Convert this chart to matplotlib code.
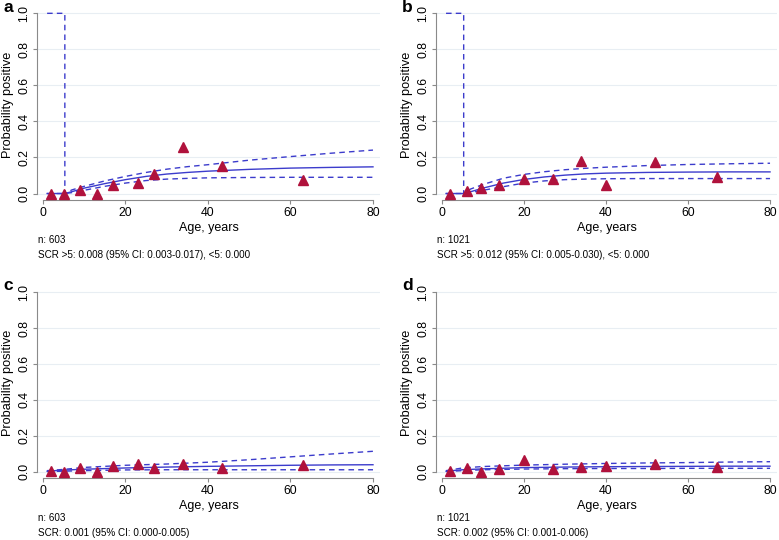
import matplotlib
matplotlib.use("Agg")
import matplotlib.pyplot as plt
import numpy as np

plt.rcParams['font.family'] = ['Liberation Sans', 'DejaVu Sans']

# observed proportions (triangles)
obs_age_ac = [2, 5, 9, 13, 17, 23, 27, 34, 43.5, 63]
obs_age_bd = [2, 6, 9.5, 14, 20, 27, 34, 40, 52, 67]
obs_a = [0.0, 0.0, 0.02, 0.0, 0.05, 0.06, 0.108, 0.26, 0.155, 0.073]
obs_b = [0.0, 0.012, 0.03, 0.047, 0.08, 0.08, 0.181, 0.05, 0.174, 0.092]
obs_c = [0.004, 0.0, 0.02, 0.0, 0.03, 0.04, 0.02, 0.04, 0.02, 0.035]
obs_d = [0.003, 0.02, 0.0, 0.013, 0.063, 0.012, 0.025, 0.03, 0.043, 0.023]

# fitted curves (a, b: break at age 5)
fit_x_ab = [1, 5.3, 7, 10, 15, 20, 25, 30, 35, 40, 50, 60, 70, 80]
fit_a = [0, 0, 0.01, 0.03, 0.055, 0.077, 0.095, 0.108, 0.117, 0.124, 0.134, 0.141, 0.145, 0.148]
up_a = [1.0, 1.0, 0.02, 0.04, 0.07, 0.095, 0.117, 0.135, 0.149, 0.16, 0.185, 0.205, 0.224, 0.241]
lo_a = [0, 0, 0.005, 0.018, 0.04, 0.058, 0.072, 0.08, 0.084, 0.087, 0.089, 0.09, 0.09, 0.09]
fit_b = [0, 0, 0.01, 0.03, 0.058, 0.078, 0.092, 0.102, 0.109, 0.113, 0.117, 0.119, 0.12, 0.12]
up_b = [1.0, 1.0, 0.025, 0.05, 0.085, 0.106, 0.121, 0.132, 0.14, 0.146, 0.155, 0.161, 0.165, 0.168]
lo_b = [0, 0, 0.005, 0.018, 0.038, 0.058, 0.07, 0.077, 0.08, 0.082, 0.083, 0.083, 0.083, 0.083]

fit_x_cd = [1, 5, 10, 20, 30, 40, 50, 60, 70, 80]
fit_c = [0.002, 0.008, 0.013, 0.02, 0.025, 0.029, 0.032, 0.035, 0.037, 0.038]
up_c = [0.005, 0.012, 0.023, 0.035, 0.042, 0.052, 0.066, 0.082, 0.098, 0.113]
lo_c = [0.0, 0.002, 0.005, 0.009, 0.01, 0.01, 0.01, 0.01, 0.01, 0.01]
fit_d = [0.002, 0.01, 0.015, 0.022, 0.025, 0.027, 0.028, 0.029, 0.03, 0.03]
up_d = [0.005, 0.02, 0.028, 0.036, 0.041, 0.045, 0.048, 0.05, 0.053, 0.055]
lo_d = [0.0, 0.005, 0.01, 0.014, 0.016, 0.017, 0.017, 0.018, 0.018, 0.018]

panel_labels = ['a', 'b', 'c', 'd']
notes = [
    ["n: 603", "SCR >5: 0.008 (95% CI: 0.003-0.017), <5: 0.000"],
    ["n: 1021", "SCR >5: 0.012 (95% CI: 0.005-0.030), <5: 0.000"],
    ["n: 603", "SCR: 0.001 (95% CI: 0.000-0.005)"],
    ["n: 1021", "SCR: 0.002 (95% CI: 0.001-0.006)"],
]

line_col = '#3c3ccc'
mark_col = '#b0123c'
axis_col = '#8a8a8a'
grid_col = '#e8eef3'

W, H = 779, 540
fig = plt.figure(figsize=(W / 100, H / 100), dpi=100)

# pixel boxes: (left, top, right, bottom)
boxes = [(37, 9, 380, 200), (436, 9, 777, 200), (37, 288, 380, 478), (436, 288, 777, 478)]

panels = [
    (obs_age_ac, obs_a, fit_x_ab, fit_a, up_a, lo_a),
    (obs_age_bd, obs_b, fit_x_ab, fit_b, up_b, lo_b),
    (obs_age_ac, obs_c, fit_x_cd, fit_c, up_c, lo_c),
    (obs_age_bd, obs_d, fit_x_cd, fit_d, up_d, lo_d),
]

for i, (bx, (ox, oy, fx, fy, fu, fl)) in enumerate(zip(boxes, panels)):
    l, t, r, b = bx
    ax = fig.add_axes([l / W, 1 - b / H, (r - l) / W, (b - t) / H])
    ax.set_xlim(-1.45, 81.7)
    ax.set_ylim(-0.036, 1.024)

    # upper CI for a/b drops vertically at age 5
    if i < 2:
        ux = [fx[0], fx[1]] + fx[1:]
        uy = [fu[0], fu[1], 0] + fu[2:]
    else:
        ux, uy = fx, fu
    ax.plot(fx, fy, color=line_col, lw=1.0, zorder=3)
    ax.plot(ux, uy, color=line_col, lw=1.0, ls=(0, (4, 3)), zorder=3)
    ax.plot(fx, fl, color=line_col, lw=1.0, ls=(0, (4, 3)), zorder=3)
    ax.plot(ox, oy, ls='none', marker='^', ms=6.5, color=mark_col, zorder=4)

    ax.set_yticks([0, 0.2, 0.4, 0.6, 0.8, 1.0])
    ax.set_yticklabels(['0.0', '0.2', '0.4', '0.6', '0.8', '1.0'], rotation=90, va='center')
    ax.set_xticks([0, 20, 40, 60, 80])
    ax.grid(axis='y', color=grid_col, lw=0.8)
    ax.set_axisbelow(True)
    for s in ['top', 'right']:
        ax.spines[s].set_visible(False)
    for s in ['left', 'bottom']:
        ax.spines[s].set_color(axis_col)
        ax.spines[s].set_linewidth(0.8)
    ax.spines['left'].set_bounds(0, 1)
    ax.spines['bottom'].set_bounds(0, 80)
    ax.tick_params(length=3, width=0.8, color=axis_col, labelsize=8.8, pad=2)
    ax.set_ylabel('Probability positive', fontsize=9.2, labelpad=3)
    ax.set_xlabel('Age, years', fontsize=9, labelpad=2)

    fig.text((l + 1) / W, 1 - (b + 40) / H, notes[i][0], fontsize=7.1, va='center')
    fig.text((l + 1) / W, 1 - (b + 55) / H, notes[i][1], fontsize=7.1, va='center')
    fig.text((l - 34) / W, 1 - (t - 2) / H, panel_labels[i], fontsize=12.5, fontweight='bold', va='center')

fig.savefig('out.png', dpi=100)
